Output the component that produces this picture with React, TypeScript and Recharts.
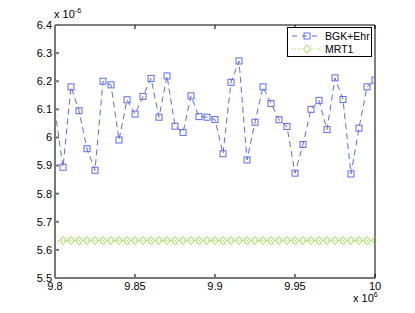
import React from 'react'
import { LineChart, Line, XAxis, YAxis } from 'recharts'

// x in units of 10^6, y in units of 10^-6
const xValues = [
  9.8, 9.805, 9.81, 9.815, 9.82, 9.825, 9.83, 9.835, 9.84, 9.845,
  9.85, 9.855, 9.86, 9.865, 9.87, 9.875, 9.88, 9.885, 9.89, 9.895,
  9.9, 9.905, 9.91, 9.915, 9.92, 9.925, 9.93, 9.935, 9.94, 9.945,
  9.95, 9.955, 9.96, 9.965, 9.97, 9.975, 9.98, 9.985, 9.99, 9.995, 10,
]

const bgkEhr = [
  6.095, 5.894, 6.18, 6.095, 5.96, 5.883, 6.2, 6.187, 5.991, 6.134,
  6.083, 6.146, 6.21, 6.072, 6.219, 6.04, 6.018, 6.148, 6.074, 6.072,
  6.064, 5.942, 6.196, 6.272, 5.92, 6.054, 6.18, 6.121, 6.063, 6.039,
  5.873, 5.975, 6.1, 6.132, 6.028, 6.212, 6.135, 5.87, 6.033, 6.18, 6.204,
]

const mrt1 = [
  5.633, 5.633, 5.633, 5.633, 5.633, 5.633, 5.633, 5.633, 5.633, 5.633,
  5.633, 5.633, 5.633, 5.633, 5.633, 5.633, 5.633, 5.633, 5.633, 5.633,
  5.633, 5.633, 5.633, 5.633, 5.633, 5.633, 5.633, 5.633, 5.633, 5.633,
  5.633, 5.633, 5.633, 5.633, 5.633, 5.633, 5.633, 5.633, 5.633, 5.633, 5.633,
]

const xTicks = [9.8, 9.85, 9.9, 9.95, 10]
const yTicks = [5.5, 5.6, 5.7, 5.8, 5.9, 6, 6.1, 6.2, 6.3, 6.4]

const data = xValues.map((x, i) => ({ x, bgk: bgkEhr[i], mrt: mrt1[i] }))

const BLUE = '#5b6df2'
const GREEN = '#93e63c'
const FONT = '"Liberation Sans", Arial, sans-serif'

const squareDot = (props: any) => {
  const { cx, cy, index } = props
  if (index === 0 || cx == null || cy == null) return <g key={`s${index}`} />
  return <rect key={`s${index}`} x={cx - 3} y={cy - 3} width={6} height={6} fill="none" stroke={BLUE} strokeWidth={1} />
}

const diamondDot = (props: any) => {
  const { cx, cy, index } = props
  if (index === 0 || cx == null || cy == null) return <g key={`d${index}`} />
  return (
    <path key={`d${index}`} d={`M${cx},${cy - 4}L${cx + 3.5},${cy}L${cx},${cy + 4}L${cx - 3.5},${cy}Z`}
      fill="none" stroke={GREEN} strokeWidth={1} />
  )
}

const LegendBox = () => (
  <div style={{ position: 'absolute', left: 287, top: 27, width: 85, height: 30, border: '1px solid #000', background: '#fff', boxSizing: 'border-box', fontFamily: FONT, fontSize: 10.5 }}>
    <svg width={83} height={28} style={{ display: 'block' }}>
      <line x1={4} y1={8} x2={34} y2={8} stroke={BLUE} strokeDasharray="5 5" />
      <rect x={16} y={5} width={6} height={6} fill="none" stroke={BLUE} />
      <text x={37} y={12} fill="#000">BGK+Ehr</text>
      <line x1={4} y1={21} x2={34} y2={21} stroke={GREEN} strokeDasharray="1 2" />
      <path d="M19,17L22.5,21L19,25L15.5,21Z" fill="#fff" stroke={GREEN} />
      <text x={37} y={25} fill="#000">MRT1</text>
    </svg>
  </div>
)

export default function App() {
  return (
    <div style={{ position: 'absolute', left: 0, top: 0, width: 415, height: 313, background: '#fff' }}>
      <LineChart width={415} height={313} data={data} margin={{ top: 24, right: 39, bottom: 15, left: 15 }}>
        <XAxis dataKey="x" type="number" domain={[9.8, 10]} ticks={xTicks} interval={0} allowDataOverflow
          height={20} tickSize={-4} tickMargin={8} stroke="#777" strokeWidth={2}
          tick={{ fill: '#000', fontSize: 11, fontFamily: FONT }} />
        <XAxis xAxisId="top" orientation="top" dataKey="x" type="number" domain={[9.8, 10]} ticks={xTicks}
          height={1} tickSize={-4} tickFormatter={() => ''} stroke="#000" />
        <YAxis type="number" domain={[5.5, 6.4]} ticks={yTicks} interval={0} width={40}
          tickSize={-4} tickMargin={7} stroke="#777" strokeWidth={2}
          tick={{ fill: '#000', fontSize: 11, fontFamily: FONT }} />
        <YAxis yAxisId="right" orientation="right" type="number" domain={[5.5, 6.4]} ticks={yTicks}
          width={1} tickSize={-4} tickFormatter={() => ''} stroke="#000" />
        <Line dataKey="bgk" name="BGK+Ehr" stroke={BLUE} strokeWidth={1} strokeDasharray="6 4"
          dot={squareDot} activeDot={false} isAnimationActive={false} />
        <Line dataKey="mrt" name="MRT1" stroke={GREEN} strokeWidth={1} strokeDasharray="1 2"
          dot={diamondDot} activeDot={false} isAnimationActive={false} />
      </LineChart>
      <LegendBox />
      <div style={{ position: 'absolute', left: 54, top: 7, fontFamily: FONT, fontSize: 11 }}>
        x 10<sup style={{ fontSize: 7 }}>-6</sup>
      </div>
      <div style={{ position: 'absolute', left: 353, top: 291, fontFamily: FONT, fontSize: 11 }}>
        x 10<sup style={{ fontSize: 7 }}>6</sup>
      </div>
    </div>
  )
}
